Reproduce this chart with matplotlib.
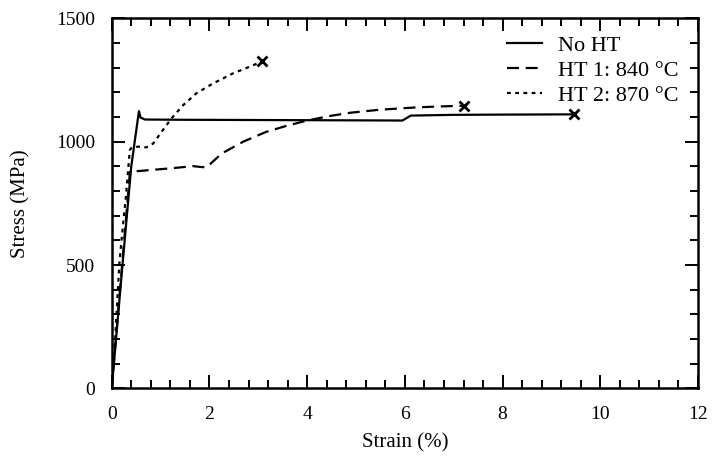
import matplotlib
matplotlib.use("Agg")
import matplotlib.pyplot as plt
from matplotlib.ticker import MultipleLocator

plt.rcParams['font.family'] = ['Liberation Serif', 'DejaVu Serif']

# Data (strain %, stress MPa)
nohT_strain = [0.0, 0.22, 0.40, 0.557, 0.59, 0.68, 1.5, 3.0, 4.5, 5.95, 6.12, 7.0, 8.0, 9.47]
nohT_stress = [0, 500, 900, 1124, 1098, 1090, 1089, 1088, 1087, 1086, 1106, 1109, 1110, 1111]

ht1_strain = [0.0, 0.20, 0.373, 0.78, 1.2, 1.67, 1.80, 1.94, 2.25, 2.69, 3.16, 3.57, 3.98,
              4.45, 4.90, 5.50, 6.22, 6.70, 7.22]
ht1_stress = [0, 470, 878, 885, 892, 901, 898, 896, 952, 1000, 1040, 1064, 1085,
              1104, 1118, 1130, 1139, 1143, 1146]

ht2_strain = [0.0, 0.07, 0.157, 0.20, 0.29, 0.37, 0.41, 0.55, 0.71, 0.85, 1.02, 1.22, 1.46,
              1.73, 2.07, 2.48, 2.82, 3.08]
ht2_stress = [0, 200, 507, 600, 777, 966, 977, 980, 977, 993, 1040, 1094, 1148,
              1196, 1236, 1277, 1304, 1326]

labels = ['No HT', 'HT 1: 840 °C', 'HT 2: 870 °C']

fig = plt.figure(figsize=(7.13, 4.61), dpi=100)
ax = fig.add_axes([0.1567, 0.1577, 0.8223, 0.8023])

lw = 1.6
ax.plot(nohT_strain, nohT_stress, color='black', lw=lw, linestyle='-', label=labels[0],
        solid_joinstyle='round')
ax.plot(ht1_strain, ht1_stress, color='black', lw=lw, linestyle=(0, (5.4, 3.0)), label=labels[1])
ax.plot(ht2_strain, ht2_stress, color='black', lw=lw, linestyle=(0, (1.7, 2.0)), label=labels[2])

for xs, ys in [(nohT_strain, nohT_stress), (ht1_strain, ht1_stress), (ht2_strain, ht2_stress)]:
    ax.plot(xs[-1], ys[-1], marker='x', color='black', markersize=7, mew=2, linestyle='none')

ax.set_xlim(0, 12)
ax.set_ylim(0, 1500)
ax.xaxis.set_major_locator(MultipleLocator(2))
ax.xaxis.set_minor_locator(MultipleLocator(0.4))
ax.yaxis.set_major_locator(MultipleLocator(500))
ax.yaxis.set_minor_locator(MultipleLocator(100))

ax.tick_params(which='both', direction='in', top=True, right=True, labelsize=14, width=1.4)
ax.tick_params(which='major', length=9.5)
ax.tick_params(which='minor', length=6)
ax.tick_params(axis='x', which='major', pad=13)
ax.tick_params(axis='y', which='major', pad=12)
for s in ax.spines.values():
    s.set_linewidth(1.8)

ax.set_xlabel('Strain (%)', fontsize=15, labelpad=7)
ax.set_ylabel('Stress (MPa)', fontsize=15, labelpad=18)

leg = ax.legend(loc='upper left', frameon=False, fontsize=16, handlelength=1.58,
                handletextpad=0.72, labelspacing=0.2, borderpad=0, borderaxespad=0,
                bbox_to_anchor=(0.6737, 0.955))

fig.savefig('out.png', dpi=100)
